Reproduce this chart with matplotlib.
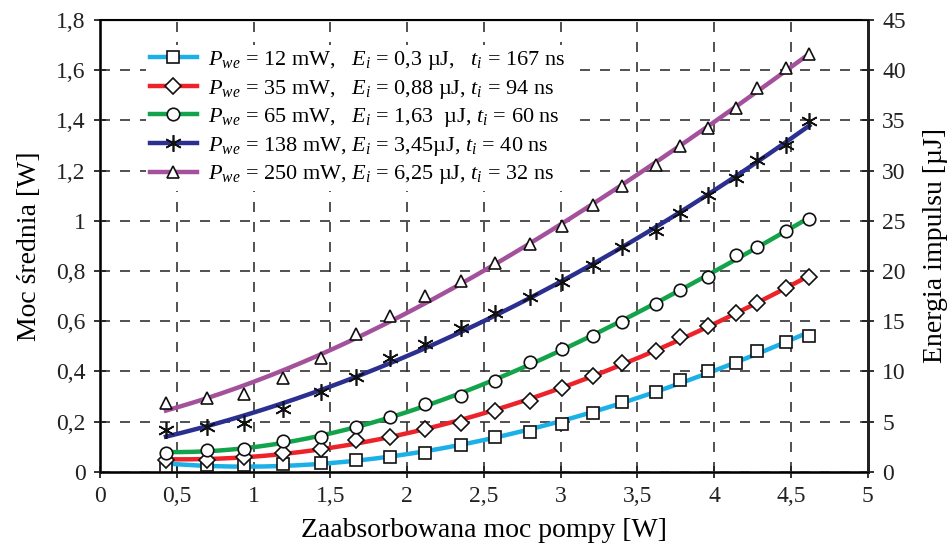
import numpy as np
import matplotlib
matplotlib.use("Agg")
import matplotlib.pyplot as plt
from matplotlib.lines import Line2D
from matplotlib.ticker import FuncFormatter, MultipleLocator

# absorbed pump power [W]
pump = [0.43, 0.70, 0.94, 1.19, 1.44, 1.67, 1.89, 2.12, 2.35, 2.57, 2.80,
        3.01, 3.21, 3.40, 3.62, 3.78, 3.96, 4.14, 4.28, 4.47, 4.62]

# average output power [W]
p_12 = [0.023, 0.025, 0.027, 0.031, 0.036, 0.047, 0.058, 0.075, 0.105, 0.140, 0.159,
        0.190, 0.235, 0.278, 0.316, 0.365, 0.403, 0.434, 0.481, 0.518, 0.542]
p_35 = [0.047, 0.048, 0.060, 0.073, 0.090, 0.126, 0.137, 0.171, 0.195, 0.241, 0.282,
        0.335, 0.382, 0.433, 0.480, 0.536, 0.582, 0.631, 0.674, 0.731, 0.777]
p_65 = [0.075, 0.086, 0.090, 0.122, 0.140, 0.177, 0.217, 0.270, 0.303, 0.363, 0.436,
        0.488, 0.541, 0.598, 0.669, 0.724, 0.777, 0.862, 0.897, 0.959, 1.006]
p_138 = [0.167, 0.180, 0.193, 0.249, 0.318, 0.379, 0.452, 0.509, 0.571, 0.631, 0.695,
         0.757, 0.823, 0.894, 0.959, 1.030, 1.102, 1.169, 1.242, 1.302, 1.399]
p_250 = [0.272, 0.295, 0.309, 0.372, 0.452, 0.548, 0.622, 0.700, 0.760, 0.830, 0.908,
         0.979, 1.062, 1.139, 1.222, 1.297, 1.368, 1.448, 1.528, 1.607, 1.665]

labels = [
    r"$P_{we}$ = 12 mW,   $E_i$ = 0,3 µJ,   $t_i$ = 167 ns",
    r"$P_{we}$ = 35 mW,   $E_i$ = 0,88 µJ, $t_i$ = 94 ns",
    r"$P_{we}$ = 65 mW,   $E_i$ = 1,63  µJ, $t_i$ = 60 ns",
    r"$P_{we}$ = 138 mW, $E_i$ = 3,45µJ, $t_i$ = 40 ns",
    r"$P_{we}$ = 250 mW, $E_i$ = 6,25 µJ, $t_i$ = 32 ns",
]
series = [p_12, p_35, p_65, p_138, p_250]
colors = ["#1bb0e8", "#ee2229", "#12a34b", "#2b2f8f", "#a4519c"]
markers = ["s", "D", "o", (6, 2, 0), "^"]
msizes = [8.5, 8, 9, 12, 9]

plt.rcParams["font.family"] = ["Liberation Serif", "DejaVu Serif"]
plt.rcParams["mathtext.fontset"] = "custom"
plt.rcParams["mathtext.it"] = "Liberation Serif:italic"
plt.rcParams["mathtext.rm"] = "Liberation Serif"

fig = plt.figure(figsize=(9.53, 5.49), dpi=100)
ax = fig.add_axes([0.1049, 0.1408, 0.8056, 0.8228])

x = np.array(pump)
xs = np.linspace(x[0], x[-1], 200)
handles = []
for y, c, m, ms in zip(series, colors, markers, msizes):
    coef = np.polyfit(x, y, 3)
    ax.plot(xs, np.polyval(coef, xs), color=c, lw=3.2, zorder=3)
    ax.plot(x, y, ls="none", marker=m, ms=ms, mfc="white", mec="#111111",
            mew=1.2, zorder=4)
    handles.append(Line2D([], [], color=c, lw=3.2, marker=m, ms=ms,
                          mfc="white", mec="#111111", mew=1.2))

ax.set_xlim(0, 5)
ax.set_ylim(0, 1.8)
ax.xaxis.set_major_locator(MultipleLocator(0.5))
ax.yaxis.set_major_locator(MultipleLocator(0.2))
comma = FuncFormatter(lambda v, p: ("%g" % round(v, 2)).replace(".", ","))
ax.xaxis.set_major_formatter(comma)
ax.yaxis.set_major_formatter(comma)
ax.grid(True, color="#333333", ls=(0, (6, 6)), lw=1.2)
ax.tick_params(direction="inout", length=9, width=1.3, labelsize=17,
               colors="#222222", top=False, pad=6)
for s in ["left", "right", "bottom"]:
    ax.spines[s].set_linewidth(2)
    ax.spines[s].set_color("#222222")
ax.spines["top"].set_linewidth(1.5)
ax.set_xlabel("Zaabsorbowana moc pompy [W]", fontsize=20, labelpad=8)
ax.set_ylabel("Moc średnia [W]", fontsize=20, labelpad=10)

ax2 = ax.twinx()
ax2.set_ylim(0, 45)
ax2.yaxis.set_major_locator(MultipleLocator(5))
ax2.tick_params(direction="inout", length=9, width=1.3, labelsize=17,
                colors="#222222", pad=6)
ax2.spines["right"].set_linewidth(2)
ax2.spines["right"].set_color("#222222")
ax2.set_ylabel("Energia impulsu [µJ]", fontsize=20, labelpad=12)

leg = ax.legend(handles, labels, loc="upper left", bbox_to_anchor=(0.045, 0.97),
                frameon=True, fontsize=16, handlelength=2.1, labelspacing=0.25,
                handletextpad=0.5, borderpad=0.2, fancybox=False)
leg.get_frame().set_facecolor("white")
leg.get_frame().set_edgecolor("none")
leg.get_frame().set_alpha(1)

fig.savefig("out.png", dpi=100)
